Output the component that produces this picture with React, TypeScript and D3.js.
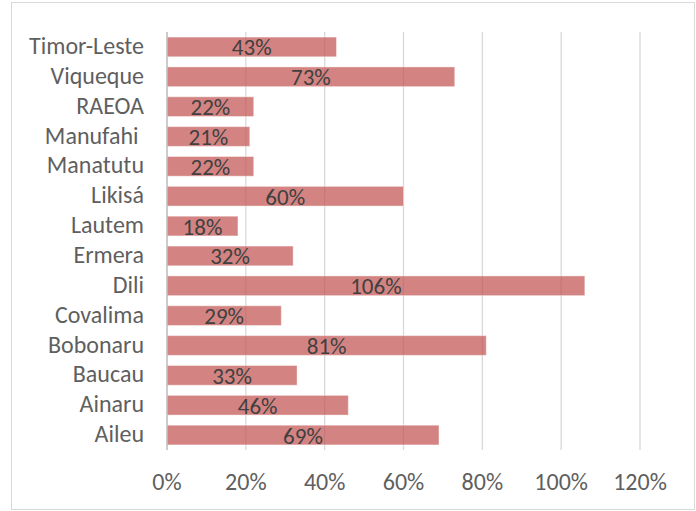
import React from "react";
import * as d3 from "d3";

const categories = ["Timor-Leste", "Viqueque", "RAEOA", "Manufahi ", "Manatutu", "Likisá", "Lautem", "Ermera", "Dili", "Covalima", "Bobonaru", "Baucau", "Ainaru", "Aileu"];
const values = [0.43, 0.73, 0.22, 0.21, 0.22, 0.60, 0.18, 0.32, 1.06, 0.29, 0.81, 0.33, 0.46, 0.69];
const ticks = [0, 0.2, 0.4, 0.6, 0.8, 1.0, 1.2];

const W = 696, H = 511;
const left = 167, right = 640, top = 32, bottom = 450;
const font = "Carlito, Calibri, Lato, 'Open Sans', sans-serif";

export default function App() {
  const x = d3.scaleLinear().domain([0, 1.2]).range([left, right]);
  const y = d3.scaleBand<string>().domain(categories).range([top, bottom]).paddingInner(0.34).paddingOuter(0.17);
  const fmt = d3.format(".0%");
  return (
    <svg width={W} height={H} style={{ position: "absolute", left: 0, top: 0 }}>
      <rect x={11.5} y={2.5} width={683} height={507} fill="#fff" stroke="#d9d9d9" />
      {ticks.map(t => (
        <line key={t} x1={x(t)} x2={x(t)} y1={top} y2={bottom} stroke="#d9d9d9" strokeWidth={1.3} />
      ))}
      {categories.map((c, i) => (
        <rect key={c} x={x(0)} y={y(c)} width={x(values[i]) - x(0)} height={y.bandwidth()}
          fill="rgb(192,80,77)" fillOpacity={0.7} stroke="#fff" strokeOpacity={0.4} strokeWidth={1} />
      ))}
      <line x1={left} x2={left} y1={top} y2={bottom} stroke="#bfbfbf" strokeWidth={1.3} />
      {categories.map((c, i) => (
        <text key={c} x={(x(0) + x(values[i])) / 2} y={y(c)! + y.bandwidth() / 2 + 8.5}
          textAnchor="middle" fontFamily={font} fontSize={23} fontWeight={300} fill="#404040">{fmt(values[i])}</text>
      ))}
      {categories.map(c => (
        <text key={c} x={144} y={y(c)! + y.bandwidth() / 2 + 7} textAnchor="end" fontFamily={font}
          fontSize={24} fontWeight={300} fill="#5f5f5f" style={{ whiteSpace: "pre" }}>{c}</text>
      ))}
      {ticks.map(t => (
        <text key={t} x={x(t)} y={490} textAnchor="middle" fontFamily={font} fontSize={24} fontWeight={300} fill="#5f5f5f">{fmt(t)}</text>
      ))}
    </svg>
  );
}
